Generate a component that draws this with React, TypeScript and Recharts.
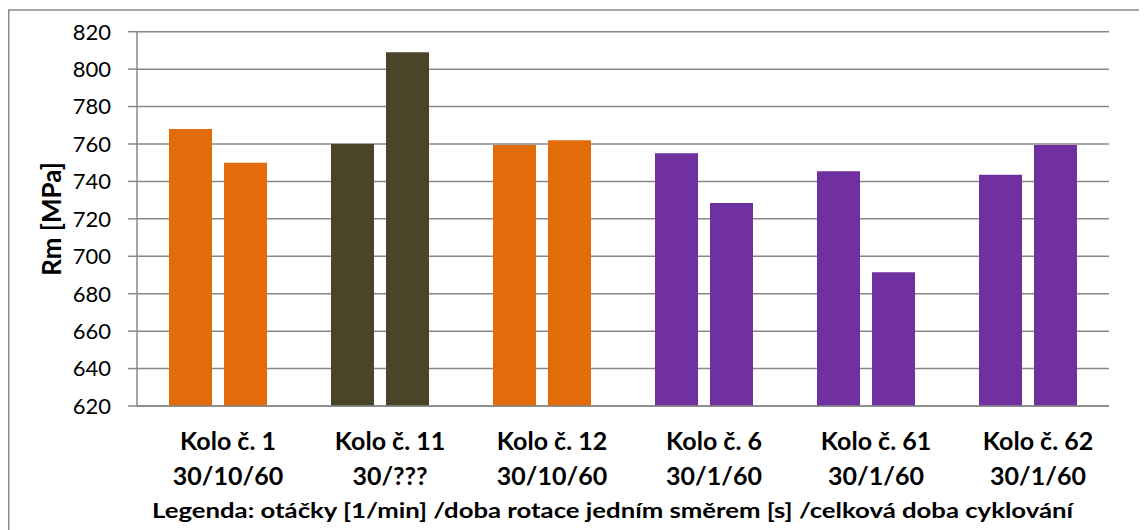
import React from "react";
import { BarChart, Bar, XAxis, YAxis, CartesianGrid, Cell } from "recharts";

const categories = ["Kolo č. 1", "Kolo č. 11", "Kolo č. 12", "Kolo č. 6", "Kolo č. 61", "Kolo č. 62"];
const regimes = ["30/10/60", "30/???", "30/10/60", "30/1/60", "30/1/60", "30/1/60"];
const firstTest = [768, 760, 759.5, 755, 745.5, 743.5];
const secondTest = [750, 809, 762, 728.5, 691.5, 759.5];
const yTicks = [620, 640, 660, 680, 700, 720, 740, 760, 780, 800, 820];

const ORANGE = "#E36C0A";
const OLIVE = "#4A4429";
const PURPLE = "#7030A0";
const barColors = [ORANGE, OLIVE, ORANGE, PURPLE, PURPLE, PURPLE];

const GRID = "#878787";
const FONT = "Lato, 'Open Sans', sans-serif";

const data = categories.map((name, i) => ({
  name,
  regime: regimes[i],
  first: firstTest[i],
  second: secondTest[i],
}));

const CategoryTick = (props: any) => {
  const { x, y, payload } = props;
  const i = payload.index;
  return (
    <g transform={`translate(${x + 10},${y})`}>
      <text textAnchor="middle" fontFamily={FONT} fontWeight={700} fontSize={25} fill="#000">
        <tspan x={0} y={35.5}>{categories[i]}</tspan>
        <tspan x={0} y={70.5}>{regimes[i]}</tspan>
      </text>
    </g>
  );
};

const W = 1139;
const H = 522;

const App = () => {
  return (
    <div style={{ position: "relative", width: W, height: H }}>
      <BarChart
        width={W}
        height={H}
        data={data}
        margin={{ top: 23.7, right: 38, left: 0, bottom: 0 }}
        barCategoryGap={32}
        barGap={12}
      >
        <CartesianGrid vertical={false} stroke={GRID} strokeWidth={1.5} />
        <XAxis
          dataKey="name"
          height={124}
          axisLine={{ stroke: GRID, strokeWidth: 1.5 }}
          tickLine={false}
          tick={<CategoryTick />}
          interval={0}
        />
        <YAxis
          width={129}
          domain={[620, 820]}
          ticks={yTicks}
          interval={0}
          axisLine={{ stroke: GRID, strokeWidth: 1.5 }}
          tickLine={{ stroke: GRID, strokeWidth: 1.5 }}
          tickSize={9}
          tickMargin={17}
          tick={{ fontFamily: FONT, fontSize: 22, fill: "#000" }}
        />
        <Bar dataKey="first" isAnimationActive={false}>
          {data.map((_, i) => (
            <Cell key={`f-${i}`} fill={barColors[i]} />
          ))}
        </Bar>
        <Bar dataKey="second" isAnimationActive={false}>
          {data.map((_, i) => (
            <Cell key={`s-${i}`} fill={barColors[i]} />
          ))}
        </Bar>
      </BarChart>
      <svg
        width={W}
        height={H}
        style={{ position: "absolute", left: 0, top: 0, pointerEvents: "none", overflow: "hidden" }}
      >
        <rect x={0.75} y={2} width={W + 20} height={H + 20} fill="none" stroke="#8c8c8c" strokeWidth={1.5} />
        <text
          x={53}
          y={211}
          transform="rotate(-90, 53, 211)"
          textAnchor="middle"
          fontFamily={FONT}
          fontWeight={700}
          fontSize={26}
          fill="#000"
        >
          Rm [MPa]
        </text>
        <text
          x={144}
          y={510}
          textLength={921}
          lengthAdjust="spacingAndGlyphs"
          fontFamily={FONT}
          fontWeight={700}
          fontSize={21}
          fill="#000"
        >
          Legenda: otáčky [1/min] /doba rotace jedním směrem [s] /celková doba cyklování
        </text>
      </svg>
    </div>
  );
};

export default App;
